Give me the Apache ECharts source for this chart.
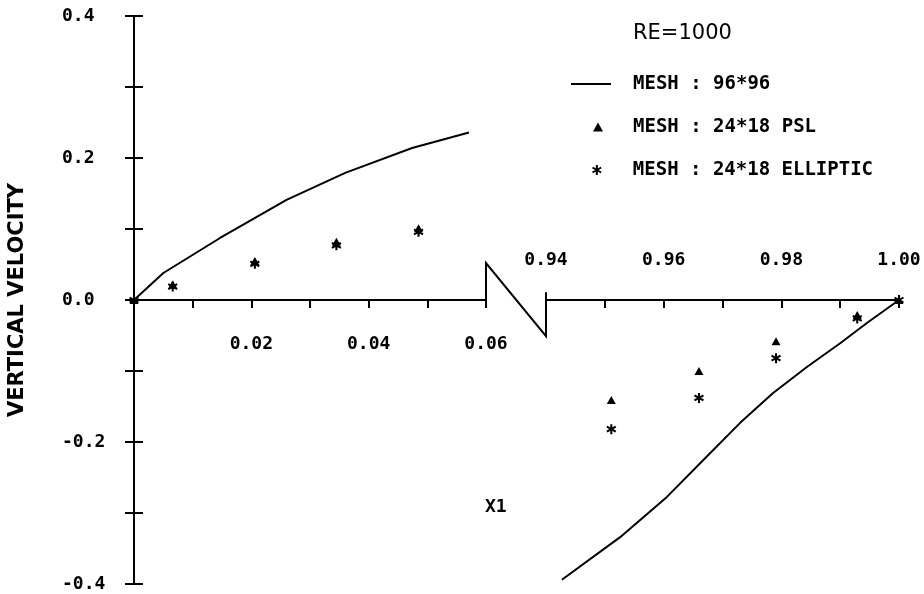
<!DOCTYPE html>
<html lang="en">
<head>
<meta charset="UTF-8">
<title>Vertical velocity RE=1000</title>
<script src="https://cdn.jsdelivr.net/npm/echarts@6/dist/echarts.min.js"></script>
<style>
  html, body { margin: 0; background: #fff; }
  #chart { width: 924px; height: 594px; }
</style>
</head>
<body>
<div id="chart"></div>
<script>
// 96*96 mesh (solid line), left and right of the x-axis break
var fineLeft = [[0, 0], [0.005, 0.038], [0.0146, 0.087], [0.026, 0.141], [0.036, 0.179], [0.0474, 0.214], [0.0571, 0.236]];
var fineRight = [[0.9427, -0.394], [0.9526, -0.334], [0.9606, -0.277], [0.9662, -0.230], [0.9730, -0.173],
                 [0.9786, -0.131], [0.9844, -0.094], [0.9900, -0.061], [0.9946, -0.032], [1.0, 0]];
// 24*18 PSL (triangles)
var pslLeft = [[0, 0], [0.0066, 0.022], [0.0206, 0.055], [0.0345, 0.082], [0.0485, 0.101]];
var pslRight = [[0.9511, -0.141], [0.9660, -0.100], [0.9791, -0.058], [0.9929, -0.021], [1.0, 0]];
// 24*18 elliptic (stars)
var ellLeft = [[0, 0], [0.0066, 0.019], [0.0206, 0.051], [0.0345, 0.077], [0.0485, 0.096]];
var ellRight = [[0.9511, -0.182], [0.9660, -0.138], [0.9791, -0.082], [0.9929, -0.026], [1.0, 0]];

var names = ['MESH : 96*96', 'MESH : 24*18 PSL', 'MESH : 24*18 ELLIPTIC'];
// axis break "Z" drawn on the x axis: [gridIndex, x, y]
var breakMark = [[0, 0.06, 0], [0, 0.06, 0.052], [1, 0.94, -0.051], [1, 0.94, 0.011]];

var star = 'path://M1,5L-1,5L-1,-5L1,-5Z' +
  'M-4.83,-1.63L-3.83,-3.37L4.83,1.63L3.83,3.37Z' +
  'M-3.83,3.37L-4.83,1.63L3.83,-3.37L4.83,-1.63Z';

var mono = 'DejaVu Sans Mono';
var sans = 'DejaVu Sans';
var black = '#000';

var chart = echarts.init(document.getElementById('chart'));

function evenLabel(digits, scale, skipZero) {
  return function (v) {
    var k = Math.round(v * scale);
    if (skipZero && k === 0) return '';
    return k % 2 === 0 ? v.toFixed(digits) : '';
  };
}

var tickFont = { color: black, fontFamily: mono, fontWeight: 'bold', fontSize: 18 };
var yBase = { type: 'value', min: -0.4, max: 0.4, interval: 0.1, splitLine: { show: false } };
var axisPen = { color: black, width: 2 };

function legendAt(name, left, top, w, h, pad, icon) {
  var item = { name: name };
  if (icon) item.icon = icon;
  return {
    orient: 'vertical', left: left, top: top, padding: 0, itemWidth: w, itemHeight: h,
    selectedMode: false, data: [item],
    textStyle: { color: black, fontFamily: mono, fontWeight: 'bold', fontSize: 19,
                 lineHeight: 20, padding: [0, 0, 0, pad] }
  };
}

option = {
  animation: false,
  backgroundColor: '#fff',
  // 0/1: data grids; 2/3: the halves above / below y=0 that carry the x axes
  grid: [
    { left: 134, top: 16, width: 352, bottom: 10, outerBoundsMode: 'none' },
    { left: 546, top: 16, width: 353, bottom: 10, outerBoundsMode: 'none' },
    { left: 134, top: 16, width: 352, height: 284, outerBoundsMode: 'none' },
    { left: 546, top: 300, width: 353, bottom: 10, outerBoundsMode: 'none' }
  ],
  xAxis: [
    { type: 'value', gridIndex: 0, min: 0, max: 0.06, show: false },
    { type: 'value', gridIndex: 1, min: 0.94, max: 1.0, show: false },
    {
      type: 'value', gridIndex: 2, min: 0, max: 0.06, interval: 0.01, position: 'bottom',
      splitLine: { show: false },
      axisLine: { onZero: false, lineStyle: axisPen },
      axisTick: { length: 8, lineStyle: axisPen },
      axisLabel: Object.assign({ formatter: evenLabel(2, 100, true), margin: 35 }, tickFont)
    },
    {
      type: 'value', gridIndex: 3, min: 0.94, max: 1.0, interval: 0.01, position: 'top',
      splitLine: { show: false },
      axisLine: { onZero: false, lineStyle: axisPen },
      axisTick: { inside: true, length: 8, lineStyle: axisPen },
      axisLabel: Object.assign({ formatter: evenLabel(2, 100, false), margin: 31 }, tickFont)
    }
  ],
  yAxis: [
    Object.assign({}, yBase, {
      gridIndex: 0,
      name: 'VERTICAL VELOCITY', nameLocation: 'middle', nameGap: 106,
      nameTextStyle: { color: black, fontFamily: sans, fontWeight: 'bold', fontSize: 21 },
      axisLine: { show: true, onZero: false, lineStyle: axisPen },
      axisTick: { length: 9, lineStyle: axisPen },
      axisLabel: Object.assign({ formatter: evenLabel(1, 10, false), margin: 72, align: 'left' }, tickFont)
    }),
    // same axis again, ticks pointing inward so the ticks cross the line
    Object.assign({}, yBase, {
      gridIndex: 0, position: 'left',
      axisLine: { show: false },
      axisTick: { show: true, inside: true, length: 9, lineStyle: axisPen },
      axisLabel: { show: false }
    }),
    Object.assign({}, yBase, { gridIndex: 1, show: false }),
    { type: 'value', gridIndex: 2, min: 0, max: 0.4, show: false },
    { type: 'value', gridIndex: 3, min: -0.4, max: 0, show: false }
  ],
  legend: [
    legendAt(names[0], 571, 74, 40, 2, 17, 'rect'),
    legendAt(names[1], 593, 117, 10, 9, 25),
    legendAt(names[2], 592, 160, 10, 10, 26)
  ],
  graphic: [
    { type: 'text', left: 633, top: 23,
      style: { text: 'RE=1000', fill: black, font: '21px "DejaVu Sans"' } },
    { type: 'text', left: 485, top: 498,
      style: { text: 'X1', fill: black, font: 'bold 18px "DejaVu Sans Mono"' } }
  ],
  series: [
    { name: names[0], type: 'line', xAxisIndex: 0, yAxisIndex: 0, data: fineLeft, symbol: 'none',
      lineStyle: { color: black, width: 2 }, itemStyle: { color: black } },
    { name: names[0], type: 'line', xAxisIndex: 1, yAxisIndex: 2, data: fineRight, symbol: 'none',
      lineStyle: { color: black, width: 2 }, itemStyle: { color: black } },
    { name: names[1], type: 'scatter', xAxisIndex: 0, yAxisIndex: 0, data: pslLeft,
      symbol: 'triangle', symbolSize: [9, 8], itemStyle: { color: black, opacity: 1 } },
    { name: names[1], type: 'scatter', xAxisIndex: 1, yAxisIndex: 2, data: pslRight,
      symbol: 'triangle', symbolSize: [9, 8], itemStyle: { color: black, opacity: 1 } },
    { name: names[2], type: 'scatter', xAxisIndex: 0, yAxisIndex: 0, data: ellLeft,
      symbol: star, symbolSize: 10, itemStyle: { color: black, opacity: 1 } },
    { name: names[2], type: 'scatter', xAxisIndex: 1, yAxisIndex: 2, data: ellRight,
      symbol: star, symbolSize: 10, itemStyle: { color: black, opacity: 1 } }
  ]
};

chart.setOption(option);

// axis break symbol between the two x ranges
var pts = breakMark.map(function (p) {
  return chart.convertToPixel({ gridIndex: p[0] }, [p[1], p[2]]);
});
chart.setOption({
  graphic: option.graphic.concat([{
    type: 'polyline', shape: { points: pts },
    style: { stroke: black, lineWidth: 2, fill: null }
  }])
});
</script>
</body>
</html>
